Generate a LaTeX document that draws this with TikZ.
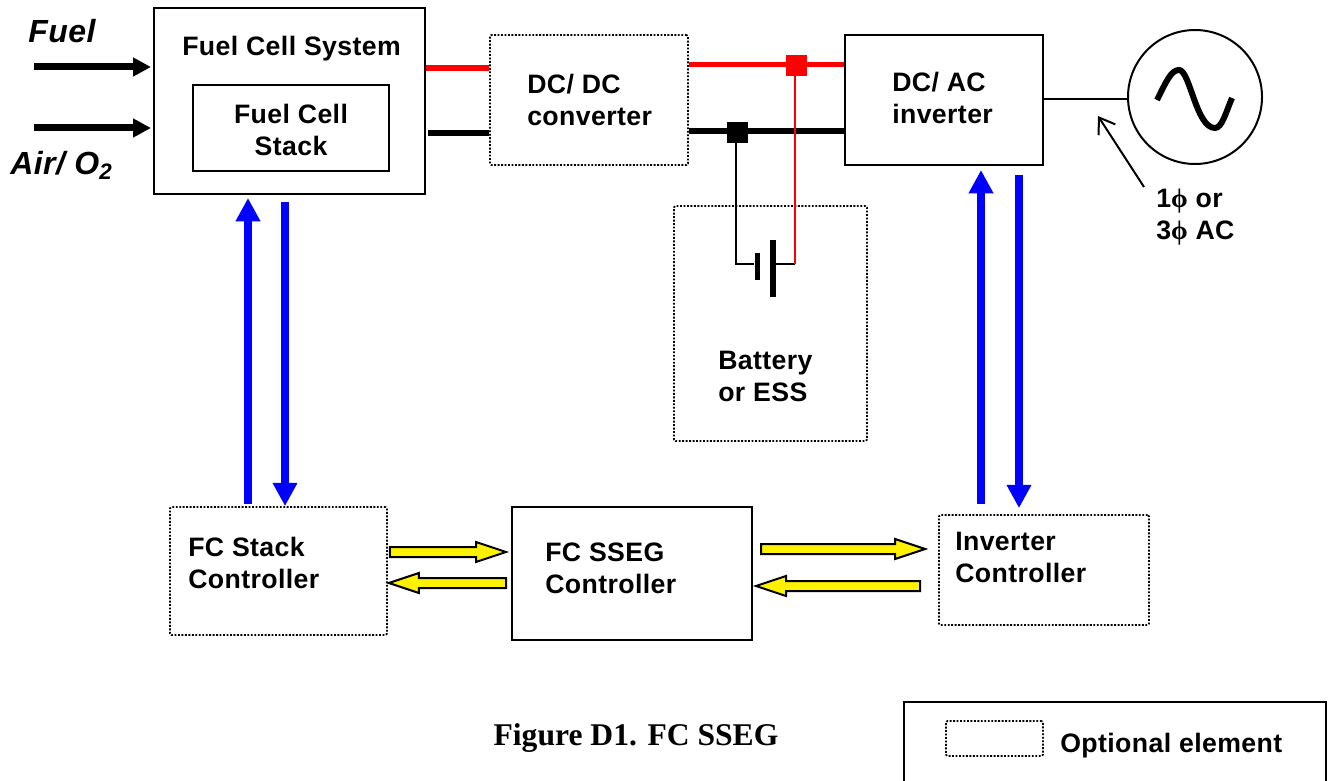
\documentclass[tikz,border=0pt]{standalone}
\usepackage{fontspec}
\setmainfont[LetterSpace=1.5]{Liberation Sans}
\newfontfamily\captionfont{Liberation Serif}
\usepackage{tikz}
\usetikzlibrary{calc}
\usetikzlibrary{arrows.meta}
\tikzset{
  boxdims/.style 2 args={minimum width=#1*0.75pt, minimum height=#2*0.75pt, inner sep=0pt},
  solidbox/.style={draw, line width=1.5pt},
  optionalbox/.style={draw, line width=1.3pt, dash pattern=on 1.4pt off 1.2pt, rounded corners=1pt},
  boxtext/.style={font=\bfseries\fontsize{20}{24}\selectfont, align=left, inner sep=0pt},
  junction/.style={minimum size=15.75pt, inner sep=0pt},
  redbus/.style={red, line width=4.2pt},
  blackbus/.style={black, line width=4.2pt},
  blueflow/.style={blue, line width=6.4pt, -{Triangle[length=17.5pt,width=17.5pt]}},
  inflow/.style={black, line width=5.25pt, -{Triangle[length=13.5pt,width=13.5pt]}},
  yellowflow/.style={draw=black, fill=yellow, line width=1.5pt, line join=miter}
}
% block arrow between two named points
\newcommand{\yellowarrow}[2]{
  \coordinate (headbase) at ($(#2)!22.5pt!(#1)$);
  \draw[yellowflow] ($(#1)!3.75pt!90:(#2)$) -- ($(headbase)!3.75pt!90:(#2)$)
    -- ($(headbase)!7.5pt!90:(#2)$) -- (#2) -- ($(headbase)!7.5pt!-90:(#2)$)
    -- ($(headbase)!3.75pt!-90:(#2)$) -- ($(#1)!3.75pt!-90:(#2)$) -- cycle;
}

\begin{document}
\begin{tikzpicture}[x=0.75pt, y=-0.75pt]

    \useasboundingbox (0,0) rectangle (1332,781);

    % Fuel cell system
    \node[solidbox, boxdims={271}{186}] (fcsystem) at (289.5,101) {};
    \node[solidbox, boxdims={196}{86}] (fcstack) at (291,128) {};
    \node[boxtext, align=center] (fcstacktext) at (291,130) {Fuel Cell\\Stack};
    \node[boxtext, anchor=west] (fcsystemtext) at (182,49) {Fuel Cell System};

    % Power stages
    \node[optionalbox, boxdims={198}{130}] (dcdc) at (589,100) {};
    \node[boxtext, anchor=west] (dcdctext) at (527,99.5) {DC/ DC\\converter};
    \node[solidbox, boxdims={198}{130}] (dcac) at (944,100) {};
    \node[boxtext, anchor=west] (dcactext) at (892,97.5) {DC/ AC\\inverter};

    % Battery
    \node[optionalbox, boxdims={193}{235}] (battery) at (770.5,323.5) {};
    \node[boxtext, anchor=west] (batterytext) at (718,376) {Battery\\or ESS};

    % Controllers
    \node[optionalbox, boxdims={217}{128}] (fcstackctl) at (278.5,571) {};
    \node[boxtext, anchor=west] (fcstackctltext) at (188,563) {FC Stack\\Controller};
    \node[solidbox, boxdims={240}{133}] (fcssegctl) at (632,573.5) {};
    \node[boxtext, anchor=west] (fcssegctltext) at (545,568) {FC SSEG\\Controller};
    \node[optionalbox, boxdims={210}{110}] (inverterctl) at (1044,570) {};
    \node[boxtext, anchor=west] (inverterctltext) at (955,557) {Inverter\\Controller};

    % Inputs: fuel & air
    \coordinate (fuelstart) at (34,67);
    \coordinate (airstart) at (34,128);
    \draw[inflow] (fuelstart) -- ($(fcsystem.west)+(-2,-34)$);
    \draw[inflow] (airstart) -- ($(fcsystem.west)+(-2,27)$);
    \node[font=\bfseries\itshape\fontsize{24}{28}\selectfont, anchor=west, inner sep=0pt] (fueltext) at (28,31) {Fuel};
    \node[font=\bfseries\itshape\fontsize{24}{28}\selectfont, anchor=west, inner sep=0pt] (airtext) at (10,165) {Air/ O\textsubscript{2}};

    % Buses: system to converter
    \draw[redbus] ($(fcsystem.east)+(0,-33)$) -- ($(dcdc.west)+(0,-32)$);
    \draw[blackbus] ($(fcsystem.east)+(2,32)$) -- ($(dcdc.west)+(0,33)$);

    % Buses: converter to inverter
    \draw[redbus] ($(dcdc.east)+(0,-35.5)$) -- ($(dcac.west)+(0,-35.5)$);
    \draw[blackbus] ($(dcdc.east)+(0,31)$) -- ($(dcac.west)+(0,31)$);
    \node[junction, fill=red] (redjunction) at (796.5,65.5) {};
    \node[junction, fill=black] (blackjunction) at (737.5,132.5) {};

    % Battery symbol and its wires
    \node[fill=black, boxdims={5.5}{27}] (shortplate) at (757.5,266.5) {};
    \node[fill=black, boxdims={6}{57}] (longplate) at (773,268.5) {};
    \coordinate (batneg) at (736,264);
    \coordinate (batpos) at (795,264);
    \draw[line width=1.5pt] (blackjunction.south -| batneg) -- (batneg) -- (shortplate.west |- batneg);
    \draw[line width=1.5pt] (longplate.east |- batpos) -- (batpos);
    \draw[red, line width=1.5pt] (redjunction.south -| batpos) -- (batpos);

    % AC source
    \node[draw, circle, line width=1.5pt, minimum size=100.5pt, inner sep=0pt] (acsource) at (1195,97) {};
    \draw[line width=1.5pt] ($(dcac.east)+(0,-1)$) -- ($(acsource.west)+(0,2)$);
    \draw[line width=4.5pt] (1157,100) .. controls (1166,82) and (1171,70) .. (1179,70)
      .. controls (1190,70) and (1196,128) .. (1215,128)
      .. controls (1222,128) and (1226,112) .. (1232,98);

    % Label: AC output
    \node[boxtext, anchor=west] (actext) at (1156,217) {1{\captionfont ϕ} or\\3{\captionfont ϕ} AC};
    \coordinate (acpointer) at (1144,187);
    \coordinate (actip) at (1098,116);
    \draw[line width=1.5pt, -{Straight Barb[length=11pt,width=15pt]}] (acpointer) -- (actip);

    % Blue arrows: stack side
    \draw[blueflow] ($(fcstackctl.north)+(-30.5,-2)$) -- ($(fcsystem.south)+(-41.5,3)$);
    \draw[blueflow] ($(fcsystem.south)+(-4.5,7)$) -- ($(fcstackctl.north)+(6.5,0)$);

    % Blue arrows: inverter side
    \draw[blueflow] ($(inverterctl.north)+(-63,-10)$) -- ($(dcac.south)+(37,4)$);
    \draw[blueflow] ($(dcac.south)+(75,9)$) -- ($(inverterctl.north)+(-25,-6)$);

    % Yellow arrows: between controllers
    \coordinate (stackout) at ($(fcstackctl.east)+(2,-19)$);
    \coordinate (ssegin) at ($(fcssegctl.west)+(-5,-21.5)$);
    \coordinate (ssegout) at ($(fcssegctl.west)+(-5,9.5)$);
    \coordinate (stackin) at ($(fcstackctl.east)+(1,12)$);
    \yellowarrow{stackout}{ssegin}
    \yellowarrow{ssegout}{stackin}
    \coordinate (ssegoutb) at ($(fcssegctl.east)+(8,-24.5)$);
    \coordinate (invin) at ($(inverterctl.west)+(-13,-21)$);
    \coordinate (invout) at ($(inverterctl.west)+(-18,16)$);
    \coordinate (sseginb) at ($(fcssegctl.east)+(3,12.5)$);
    \yellowarrow{ssegoutb}{invin}
    \yellowarrow{invout}{sseginb}

    % Caption
    \node[font=\captionfont\bfseries\fontsize{23.7}{28}\selectfont, inner sep=0pt] (caption) at (636,738) {Figure D1. FC SSEG};

    % Legend
    \node[solidbox, boxdims={422}{108}] (legend) at (1115,756) {};
    \node[optionalbox, boxdims={97}{35}] (legendsample) at (994.5,738.5) {};
    \node[boxtext, anchor=west] (legendtext) at (1060,746) {Optional element};

\end{tikzpicture}
\end{document}
